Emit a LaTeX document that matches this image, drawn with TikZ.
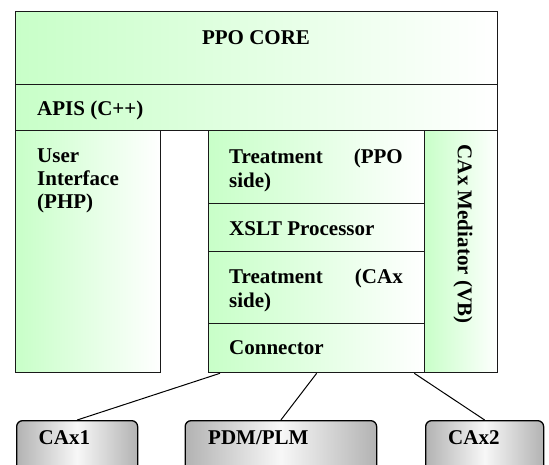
\documentclass[tikz,border=0pt]{standalone}
\usepackage{fontspec}
\setmainfont{Liberation Serif}
\definecolor{lgreen}{RGB}{200,255,200}
\definecolor{edge}{RGB}{25,25,25}
\begin{document}
\begin{tikzpicture}[x=1pt,y=-1pt,
  gbox/.style={draw=edge, line width=1.3pt, left color=lgreen, right color=white, inner sep=0pt, anchor=north west},
  lbl/.style={font=\fontsize{21}{23}\selectfont\bfseries, inner sep=0pt, anchor=base west},
  term/.style={draw=black, line width=1.3pt, rounded corners=6pt, left color=gray!60, right color=gray!60, middle color=gray!6, inner sep=0pt, anchor=north west},
  link/.style={draw=black, line width=1pt}]
\useasboundingbox (0,0) rectangle (549,464);
\clip (0,0) rectangle (549,464);
% green blocks
\node[gbox, minimum width=482pt, minimum height=73pt] (ppo) at (15,11) {};
\node[gbox, minimum width=482pt, minimum height=46pt] (apis) at (15,84) {};
\node[gbox, minimum width=145pt, minimum height=242pt] (ui) at (15,130) {};
\node[gbox, minimum width=216pt, minimum height=73pt] (tppo) at (208,130) {};
\node[gbox, minimum width=216pt, minimum height=48pt] (xslt) at (208,203) {};
\node[gbox, minimum width=216pt, minimum height=72pt] (tcax) at (208,251) {};
\node[gbox, minimum width=216pt, minimum height=49pt] (conn) at (208,323) {};
\node[gbox, minimum width=73pt, minimum height=242pt] (med) at (424,130) {};
% labels
\node[lbl, anchor=base] (ppot) at (256,44) {PPO CORE};
\node[lbl] (apist) at (37,115) {APIS (C++)};
\node[lbl] (uit1) at (37,162) {User};
\node[lbl] (uit2) at (37,185) {Interface};
\node[lbl] (uit3) at (37,208) {(PHP)};
\node[lbl] (tppot1) at (229,163) {Treatment};
\node[lbl, anchor=base east] (tppot2) at (403,163) {(PPO};
\node[lbl] (tppot3) at (229,187) {side)};
\node[lbl] (xsltt) at (229,235) {XSLT Processor};
\node[lbl] (tcaxt1) at (229,283) {Treatment};
\node[lbl, anchor=base east] (tcaxt2) at (403,283) {(CAx};
\node[lbl] (tcaxt3) at (229,307) {side)};
\node[lbl] (connt) at (229,354) {Connector};
\node[lbl, rotate=-90, anchor=center] (medt) at (463,234) {CAx Mediator (VB)};
% external systems
\node[term, minimum width=121pt, minimum height=60pt] (cax1) at (16,420) {};
\node[term, minimum width=191.5pt, minimum height=60pt] (pdm) at (184.5,420) {};
\node[term, minimum width=118pt, minimum height=60pt] (cax2) at (425,420) {};
\node[lbl] (cax1t) at (38.5,444) {CAx1};
\node[lbl] (pdmt) at (208,444) {PDM/PLM};
\node[lbl] (cax2t) at (448,444) {CAx2};
% links
\draw[link] ([xshift=12pt]conn.south west) -- (cax1.north);
\draw[link] (conn.south) -- (pdm.north);
\draw[link] ([xshift=-11pt]conn.south east) -- (cax2.north);
\end{tikzpicture}
\end{document}
